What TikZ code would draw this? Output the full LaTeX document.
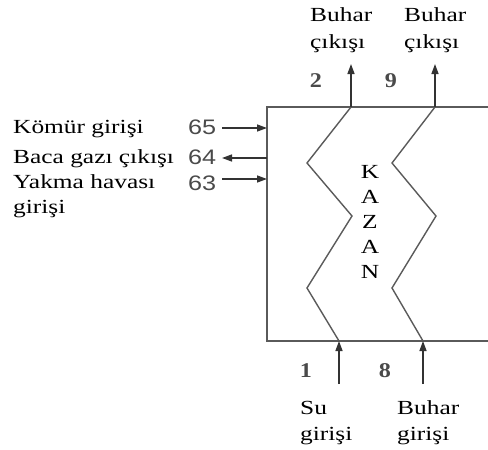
\documentclass[tikz,border=0pt]{standalone}
\usepackage{fontspec}
\setmainfont[FakeStretch=1.27]{Liberation Serif}
\newfontfamily\numfont[FakeStretch=1.2]{Liberation Sans}
\newfontfamily\digfont[FakeStretch=1.15]{Liberation Serif}
\usetikzlibrary{arrows.meta}
\definecolor{boxgray}{HTML}{5A5A5A}
\definecolor{numgray}{HTML}{4A4A4A}
\tikzset{
  lbl/.style={inner sep=0pt, anchor=base west, font=\fontsize{20}{20}\selectfont, text=black},
  num/.style={inner sep=0pt, anchor=base west, font=\numfont\fontsize{21}{21}\selectfont, text=numgray},
  dig/.style={inner sep=0pt, anchor=base, font=\digfont\bfseries\fontsize{21}{21}\selectfont, text=numgray},
  kz/.style={inner sep=0pt, anchor=base, font=\fontsize{20}{20}\selectfont, text=black},
  wall/.style={draw=boxgray, line width=2pt},
  zig/.style={draw=boxgray, line width=1.4pt, line join=miter},
  flow/.style={draw=black!80, line width=1.4pt, -{Triangle[length=10pt,width=7pt]}}
}
\begin{document}
\begin{tikzpicture}[x=1pt,y=-1pt]
\useasboundingbox (0,0) rectangle (488,450);
% box
\coordinate (tl) at (267,107);
\coordinate (bl) at (267,341);
\coordinate (tr) at (490,107);
\coordinate (br) at (490,341);
\draw[wall] (tr) -- (tl) -- (bl) -- (br);
% zigzags
\coordinate (z1a) at (351,107);
\coordinate (z1e) at (339,341);
\coordinate (z2a) at (435,107);
\coordinate (z2e) at (423,341);
\draw[zig] (z1a) -- (307,163) -- (352,216) -- (307,288) -- (z1e);
\draw[zig] (z2a) -- (392,163) -- (436,216) -- (392,288) -- (z2e);
% top arrows
\coordinate (o1) at (351,64);
\coordinate (o2) at (435,64);
\draw[flow] (z1a) -- (o1);
\draw[flow] (z2a) -- (o2);
% bottom arrows
\coordinate (i1) at (339,384);
\coordinate (i2) at (423,384);
\draw[flow] (i1) -- (z1e);
\draw[flow] (i2) -- (z2e);
% left arrows
\coordinate (a65s) at (222,128);
\coordinate (a65e) at (267,128);
\coordinate (a64s) at (267,158);
\coordinate (a64e) at (222,158);
\coordinate (a63s) at (222,179);
\coordinate (a63e) at (267,179);
\draw[flow] (a65s) -- (a65e);
\draw[flow] (a64s) -- (a64e);
\draw[flow] (a63s) -- (a63e);
% left labels
\node[lbl] (komur) at (13,133) {Kömür girişi};
\node[lbl] (baca) at (13,163) {Baca gazı çıkışı};
\node[lbl] (yakma) at (13,188) {Yakma havası};
\node[lbl] (yakma2) at (13,213) {girişi};
\node[num] (n65) at (188,134) {65};
\node[num] (n64) at (188,164) {64};
\node[num] (n63) at (188,190) {63};
% top labels
\node[lbl] (bc1a) at (310,21) {Buhar};
\node[lbl] (bc1b) at (310,48) {çıkışı};
\node[lbl] (bc2a) at (404,21) {Buhar};
\node[lbl] (bc2b) at (404,48) {çıkışı};
\node[dig] (d2) at (316,87) {2};
\node[dig] (d9) at (391,87) {9};
% bottom labels
\node[dig] (d1) at (306,377) {1};
\node[dig] (d8) at (385,377) {8};
\node[lbl] (su1) at (300,414) {Su};
\node[lbl] (su2) at (300,440) {girişi};
\node[lbl] (bg1) at (397,414) {Buhar};
\node[lbl] (bg2) at (397,440) {girişi};
% KAZAN
\node[kz] (k1) at (370,178) {K};
\node[kz] (k2) at (370,203) {A};
\node[kz] (k3) at (370,228) {Z};
\node[kz] (k4) at (370,253) {A};
\node[kz] (k5) at (370,278) {N};
\end{tikzpicture}
\end{document}
